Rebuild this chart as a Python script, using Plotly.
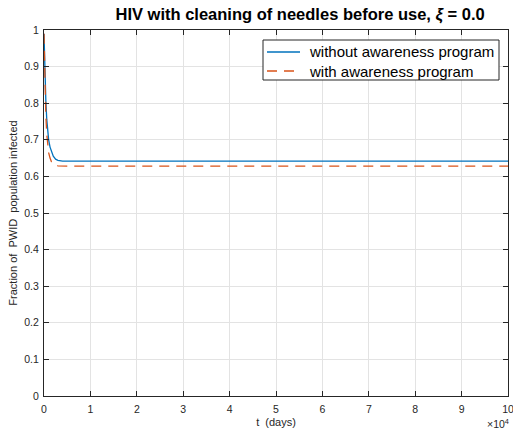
import plotly.graph_objects as go

t_days = [0, 100, 200, 300, 400, 600, 800, 1000, 1300, 1600, 2000, 2500, 3000, 4000, 5000,
          10000, 20000, 30000, 40000, 50000, 60000, 70000, 80000, 90000, 100000]
without_awareness = [0.99, 0.93, 0.88, 0.84, 0.805, 0.755, 0.72, 0.70, 0.68, 0.668, 0.655, 0.647,
                     0.644, 0.642, 0.642, 0.642, 0.642, 0.642, 0.642, 0.642, 0.642, 0.642,
                     0.642, 0.642, 0.642]
with_awareness = [0.99, 0.91, 0.85, 0.80, 0.765, 0.715, 0.685, 0.665, 0.650, 0.640, 0.634, 0.630,
                  0.629, 0.628, 0.628, 0.628, 0.628, 0.628, 0.628, 0.628, 0.628, 0.628,
                  0.628, 0.628, 0.628]
series_names = ["without awareness program", "with awareness program"]
x_tickvals = [0, 10000, 20000, 30000, 40000, 50000, 60000, 70000, 80000, 90000, 100000]
x_ticktext = ["0", "1", "2", "3", "4", "5", "6", "7", "8", "9", "10"]
y_tickvals = [0, 0.1, 0.2, 0.3, 0.4, 0.5, 0.6, 0.7, 0.8, 0.9, 1]
y_ticktext = ["0", "0.1", "0.2", "0.3", "0.4", "0.5", "0.6", "0.7", "0.8", "0.9", "1"]

FONT = "Liberation Sans, Arial, Helvetica, sans-serif"
W, H = 513, 431
ML, MR, MT, MB = 44, 5, 30, 35
PW, PH = W - ML - MR, H - MT - MB


def px_x(x):
    return (x - ML) / PW


def px_y(y):
    return 1 - (y - MT) / PH


styles = [dict(color="#0072BD", width=1.3), dict(color="#D95319", width=1.3, dash="10px,7px")]

fig = go.Figure()
fig.add_trace(go.Scatter(x=t_days, y=without_awareness, mode="lines",
                         name=series_names[0], line=styles[0]))
fig.add_trace(go.Scatter(x=t_days, y=with_awareness, mode="lines",
                         name=series_names[1], line=styles[1]))

axis_common = dict(showline=True, linecolor="#262626", linewidth=1, mirror="ticks",
                   ticks="inside", ticklen=5, tickcolor="#262626", automargin=False,
                   showgrid=True, gridcolor="#E3E3E3", gridwidth=1, zeroline=False,
                   ticklabeloverflow="allow",
                   tickfont=dict(family=FONT, size=10.5, color="#262626"))

fig.update_layout(
    width=W, height=H,
    margin=dict(l=ML, r=MR, t=MT, b=MB, autoexpand=False),
    paper_bgcolor="white", plot_bgcolor="white",
    title=dict(text="<b>HIV with cleaning of needles before use, <i>ξ</i> = 0.0</b>",
               x=0.585, xanchor="center", y=0.968, yanchor="middle",
               font=dict(family=FONT, size=16.5, color="black")),
    xaxis=dict(range=[0, 100000], tickvals=x_tickvals, ticktext=x_ticktext,
               ticklabelstandoff=3,
               title=dict(text="t  (days)", font=dict(family=FONT, size=11, color="#262626"),
                          standoff=4),
               **axis_common),
    yaxis=dict(range=[0, 1], tickvals=y_tickvals, ticktext=y_ticktext,
               ticklabelstandoff=2,
               title=dict(text="Fraction of  PWID  population infected",
                          font=dict(family=FONT, size=11, color="#262626"), standoff=4),
               **axis_common),
    showlegend=False,
)

# legend box (drawn in MATLAB style)
fig.add_shape(type="rect", xref="paper", yref="paper",
              x0=px_x(263), x1=px_x(499), y0=px_y(80), y1=px_y(40),
              line=dict(color="#262626", width=1), fillcolor="white", layer="above")
for i, (name, st) in enumerate(zip(series_names, styles)):
    yc = 52 + 19 * i
    fig.add_shape(type="line", xref="paper", yref="paper",
                  x0=px_x(267), x1=px_x(300), y0=px_y(yc), y1=px_y(yc),
                  line=st, layer="above")
    fig.add_annotation(text=name, xref="paper", yref="paper", x=px_x(307), y=px_y(yc),
                       xanchor="left", yanchor="middle", showarrow=False,
                       font=dict(family=FONT, size=15, color="black"))

fig.add_annotation(text="×10<sup>4</sup>", xref="paper", yref="paper", x=1.0, y=0,
                   xanchor="right", yanchor="top", yshift=-19, xshift=3, showarrow=False,
                   font=dict(family=FONT, size=10.5, color="#262626"))

fig.write_html("out.html", config={"displayModeBar": False},
               post_script="document.body.style.margin='0px';")
